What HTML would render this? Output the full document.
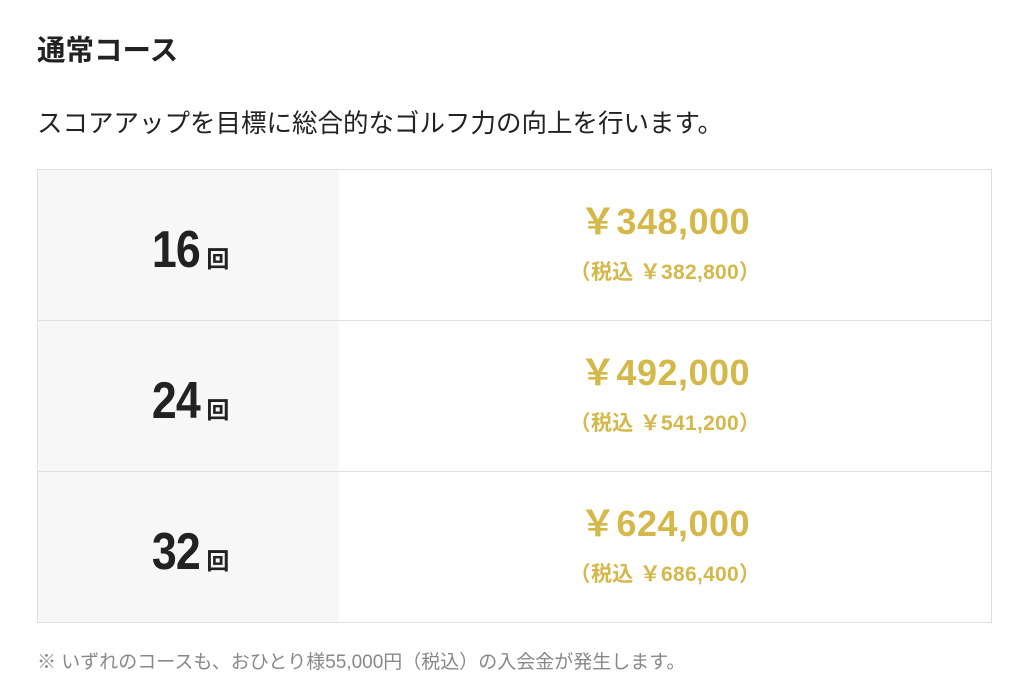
<!DOCTYPE html>
<html><head><meta charset="utf-8"><style>
body{margin:0;width:1024px;height:697px;background:#fff;font-family:"Liberation Sans","Noto Sans CJK JP",sans-serif;color:#222;position:relative;overflow:hidden}
.t{position:absolute;left:37px;top:32px;font-size:28.5px;font-weight:bold;line-height:38px}
.s{position:absolute;left:37px;top:106px;font-size:25.5px;line-height:36px;color:#222}
.tbl{position:absolute;left:37px;top:169px;width:953px;height:452px;border:1px solid #e0e0e0}
.row{position:absolute;left:0;width:953px;height:150px}
.l{position:absolute;left:0;top:0;width:301px;height:150px;background:#f7f7f7}
.n{position:absolute;left:0;width:301px;top:50px;text-align:center;font-weight:bold;font-size:52px;line-height:60px;padding-left:0}
.n b{display:inline-block;transform:scaleX(0.86);letter-spacing:-1px}
.n span{font-size:23px;margin-left:3px}
.p{position:absolute;left:301px;width:652px;text-align:center;color:#d4b84a;font-weight:bold}
.p1{top:30px;font-size:36px;line-height:44px;letter-spacing:0.5px;padding-right:8px}
.p2{top:89px;font-size:21px;line-height:28px;letter-spacing:0.3px;padding-left:0}
.hr{position:absolute;left:0;width:953px;height:1px;background:#e0e0e0}
.f{position:absolute;left:37px;top:649px;font-size:19px;color:#888;line-height:28px}
</style></head><body>
<div class="t">通常コース</div>
<div class="s">スコアアップを目標に総合的なゴルフ力の向上を行います。</div>
<div class="tbl">
<div class="row" style="top:0"><div class="l"></div><div class="n"><b>16</b><span>回</span></div><div class="p p1">￥348,000</div><div class="p p2">（税込 ￥382,800）</div></div>
<div class="hr" style="top:150px"></div>
<div class="row" style="top:151px"><div class="l"></div><div class="n"><b>24</b><span>回</span></div><div class="p p1">￥492,000</div><div class="p p2">（税込 ￥541,200）</div></div>
<div class="hr" style="top:301px"></div>
<div class="row" style="top:302px"><div class="l"></div><div class="n"><b>32</b><span>回</span></div><div class="p p1">￥624,000</div><div class="p p2">（税込 ￥686,400）</div></div>
</div>
<div class="f">※ いずれのコースも、おひとり様55,000円（税込）の入会金が発生します。</div>
</body></html>
